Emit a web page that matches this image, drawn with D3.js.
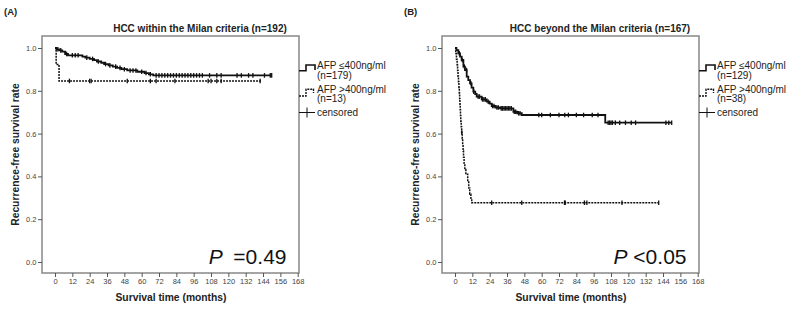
<!DOCTYPE html>
<html>
<head>
<meta charset="utf-8">
<script src="https://cdn.jsdelivr.net/npm/d3@7"></script>
<style>
  body { margin: 0; background: #fff; }
  svg text { font-family: Arial, "Liberation Sans", sans-serif; }
</style>
</head>
<body>
<svg id="chart" width="792" height="309"></svg>
<script>
// axis ticks
const monthTicks = [0, 12, 24, 36, 48, 60, 72, 84, 96, 108, 120, 132, 144, 156, 168];
const rateTicks = [0, 0.2, 0.4, 0.6, 0.8, 1.0];

// (A) within Milan, AFP <=400 (n=179)
const inLowTime = [0, 1, 3, 5, 7, 9, 19, 21, 24, 27, 29, 32, 34, 37, 40, 43, 46, 50, 57, 62, 65, 68, 150];
const inLowSurv = [1.0, 0.994, 0.989, 0.983, 0.972, 0.966, 0.960, 0.955, 0.949, 0.943, 0.937, 0.931, 0.925, 0.919, 0.913, 0.907, 0.901, 0.895, 0.889, 0.883, 0.877, 0.872, 0.872];
const inLowCens = [2, 4, 8, 12, 14, 16, 22, 26, 30, 35, 38, 42, 45, 48, 52, 54, 56, 60, 63, 66, 70, 72, 74, 76, 78, 80, 82, 84, 86, 88, 90, 92, 94, 96, 98, 100, 102, 107, 112, 115, 126, 129, 134, 137, 145, 149, 150];

// (A) within Milan, AFP >400 (n=13)
const inHighTime = [0, 0.8, 2.8, 143];
const inHighSurv = [1.0, 0.923, 0.846, 0.846];
const inHighCens = [10, 24, 25, 50, 66, 70, 83, 106, 108, 112, 115, 142];

// (B) beyond Milan, AFP <=400 (n=129)
const outLowTime = [0, 1, 2.3, 3.5, 4.6, 5.8, 6.9, 8.1, 9.2, 10.4, 11.5, 12.7, 14, 15, 18.5, 22, 24, 25.4, 28, 31.2, 40.4, 43, 46.2, 104, 150];
const outLowSurv = [1.0, 0.99, 0.975, 0.96, 0.944, 0.913, 0.897, 0.866, 0.85, 0.835, 0.815, 0.796, 0.785, 0.773, 0.76, 0.749, 0.74, 0.729, 0.722, 0.718, 0.702, 0.695, 0.687, 0.651, 0.651];
const outLowCens = [3, 5, 6.5, 8, 11, 13, 16, 17, 19, 20, 21, 23, 26, 27, 29, 30, 32, 33, 34, 35, 36, 37, 38, 39, 41, 42, 44, 45, 58, 60, 66, 72, 76, 78.5, 84, 89, 95, 99, 106, 107, 108, 109, 111, 114, 118, 122, 125, 146, 148, 150];

// (B) beyond Milan, AFP >400 (n=38)
const outHighTime = [0, 0.5, 1.0, 1.5, 1.8, 2.1, 2.4, 2.7, 3.0, 3.2, 3.4, 3.6, 3.8, 4.0, 4.3, 4.6, 5.0, 5.3, 5.6, 5.9, 6.3, 6.8, 7.5, 8.8, 9.5, 10.2, 11.0, 11.6, 141];
const outHighSurv = [1.0, 0.974, 0.947, 0.921, 0.895, 0.868, 0.842, 0.816, 0.789, 0.763, 0.737, 0.711, 0.684, 0.658, 0.632, 0.605, 0.577, 0.548, 0.519, 0.49, 0.461, 0.432, 0.41, 0.374, 0.346, 0.317, 0.29, 0.277, 0.277];
const outHighCens = [4.7, 25.4, 46.2, 75.8, 76.3, 89.6, 91.3, 115.6, 141];

const panels = [
  { dx: 0, tag: "(A)", title: "HCC within the Milan criteria (n=192)",
    low: [inLowTime, inLowSurv, inLowCens], high: [inHighTime, inHighSurv, inHighCens],
    legend: ["AFP \u2264400ng/ml", "(n=179)", "AFP >400ng/ml", "(n=13)"],
    pSign: "\u2002=0.49" },
  { dx: 400, tag: "(B)", title: "HCC beyond the Milan criteria (n=167)",
    low: [outLowTime, outLowSurv, outLowCens], high: [outHighTime, outHighSurv, outHighCens],
    legend: ["AFP \u2264400ng/ml", "(n=129)", "AFP >400ng/ml", "(n=38)"],
    pSign: " <0.05" }
];

const svg = d3.select("#chart");
const frameColor = "#8f8f8f";

function drawPanel(p) {
  const g = svg.append("g").attr("transform", `translate(${p.dx},0)`);

  const x = d3.scaleLinear().domain([0, 168]).range([55, 297.7]);
  const y = d3.scaleLinear().domain([0, 1]).range([262, 48]);
  const frame = { left: 42, right: 299, top: 36, bottom: 273 };

  g.append("text").attr("x", 4).attr("y", 15)
    .attr("font-size", 9.5).attr("font-weight", "bold").attr("fill", "#222")
    .text(p.tag);

  g.append("text").attr("x", 200).attr("y", 31.5).attr("text-anchor", "middle")
    .attr("font-size", 10).attr("font-weight", "bold").attr("fill", "#222")
    .text(p.title);

  // frame
  g.append("rect")
    .attr("x", frame.left).attr("y", frame.top)
    .attr("width", frame.right - frame.left).attr("height", frame.bottom - frame.top)
    .attr("fill", "none").attr("stroke", frameColor).attr("stroke-width", 1.6);

  // x axis
  const xAxis = d3.axisBottom(x).tickValues(monthTicks).tickSize(4).tickPadding(2);
  const xg = g.append("g").attr("transform", `translate(0,${frame.bottom})`).call(xAxis);
  xg.select(".domain").remove();
  xg.selectAll(".tick line").attr("stroke", "#555");
  xg.selectAll(".tick text").attr("font-size", 7.5).attr("fill", "#444")
    .attr("font-family", "Arial, 'Liberation Sans', sans-serif");

  // y axis
  const yAxis = d3.axisLeft(y).tickValues(rateTicks).tickSize(4).tickPadding(1.5).tickFormat(d3.format(".1f"));
  const yg = g.append("g").attr("transform", `translate(${frame.left},0)`).call(yAxis);
  yg.select(".domain").remove();
  yg.selectAll(".tick line").attr("stroke", "#555");
  yg.selectAll(".tick text").attr("font-size", 7.5).attr("fill", "#444")
    .attr("font-family", "Arial, 'Liberation Sans', sans-serif");

  g.append("text").attr("x", 171).attr("y", 301).attr("text-anchor", "middle")
    .attr("font-size", 10.3).attr("font-weight", "bold").attr("fill", "#222")
    .text("Survival time (months)");

  g.append("text").attr("transform", "translate(18.5,154.5) rotate(-90)").attr("text-anchor", "middle")
    .attr("font-size", 10.3).attr("font-weight", "bold").attr("fill", "#222")
    .text("Recurrence-free survival rate");

  // curves
  const line = d3.line().x(d => x(d[0])).y(d => y(d[1])).curve(d3.curveStepAfter);

  function curve(series, dash, width) {
    const [times, surv, cens] = series;
    const pts = times.map((t, i) => [t, surv[i]]);
    g.append("path").datum(pts)
      .attr("d", line).attr("fill", "none").attr("stroke", "#111")
      .attr("stroke-width", width).attr("stroke-dasharray", dash);
    const bis = d3.bisector(d => d).right;
    const sAt = t => y(surv[Math.max(0, bis(times, t) - 1)]);
    g.append("g").selectAll("line").data(cens).join("line")
      .attr("x1", d => x(d)).attr("x2", d => x(d))
      .attr("y1", d => sAt(d) - 2.3)
      .attr("y2", d => sAt(d) + 2.3)
      .attr("stroke", "#111").attr("stroke-width", 1.3);
  }
  curve(p.high, "2,1", 1.5);
  curve(p.low, null, 1.8);

  // legend
  const lx = frame.right;
  g.append("path").attr("d", `M${lx},70.7H${lx + 7}V65H${lx + 16}V70`)
    .attr("fill", "none").attr("stroke", "#111").attr("stroke-width", 1.6);
  g.append("path").attr("d", `M${lx},96H${lx + 7}V89.3H${lx + 14.5}V93`)
    .attr("fill", "none").attr("stroke", "#111").attr("stroke-width", 1.4).attr("stroke-dasharray", "2,1");
  g.append("path").attr("d", `M${lx},112.5H${lx + 16}M${lx + 8},107.5V117.5`)
    .attr("fill", "none").attr("stroke", "#111").attr("stroke-width", 1);

  const legendY = [68.5, 78.5, 92.5, 102, 116];
  const legendText = p.legend.concat(["censored"]);
  g.append("g").selectAll("text").data(legendText).join("text")
    .attr("x", lx + 18).attr("y", (d, i) => legendY[i])
    .attr("font-size", 10).attr("fill", "#222")
    .text(d => d);

  // p value
  const pt = g.append("text").attr("x", 286.5).attr("y", 263.5).attr("text-anchor", "end")
    .attr("font-size", 21).attr("fill", "#111")
    .attr("font-family", "'Open Sans', 'Noto Sans', sans-serif")
    .attr("xml:space", "preserve");
  pt.append("tspan").attr("font-style", "italic").text("P");
  pt.append("tspan").text(p.pSign);
}

panels.forEach(drawPanel);
</script>
</body>
</html>
